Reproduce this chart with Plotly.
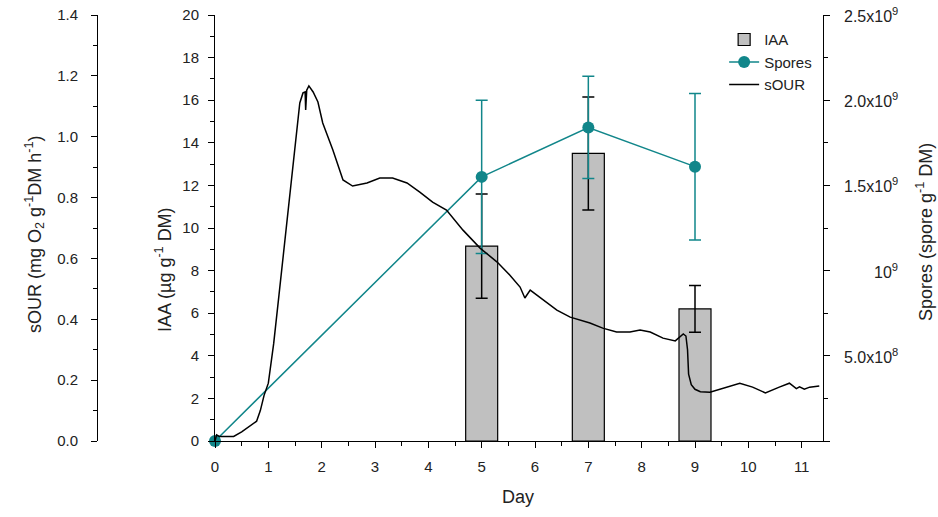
import plotly.graph_objects as go

# ---- data ----
iaa_days = [5, 7, 9]
iaa_vals = [9.15, 13.5, 6.2]
iaa_err = [2.45, 2.65, 1.1]

spore_days = [0, 5, 7, 9]
spore_vals = [0, 1.55e9, 1.84e9, 1.61e9]
spore_err = [0, 0.45e9, 0.30e9, 0.43e9]

sour_days = [0, 0.03, 0.08, 0.2, 0.35, 0.5, 0.65, 0.72, 0.78, 0.85, 0.92, 1.0, 1.1, 1.2,
             1.27, 1.40, 1.54, 1.59, 1.65, 1.69, 1.70, 1.72, 1.76, 1.84, 1.93, 2.02, 2.21,
             2.40, 2.58, 2.85, 3.09, 3.33, 3.60, 3.84, 4.08, 4.34, 4.65, 4.97, 5.29, 5.53,
             5.72, 5.81, 5.91, 6.09, 6.41, 6.66, 7.03, 7.27, 7.53, 7.78, 7.97, 8.16, 8.40,
             8.63, 8.78, 8.83, 8.86, 8.88, 8.93, 9.0, 9.10, 9.28, 9.58, 9.84, 10.08, 10.32,
             10.58, 10.77, 10.9, 10.96, 11.05, 11.15, 11.33]
sour_vals = [0.0, 0.02, 0.015, 0.015, 0.015, 0.03, 0.05, 0.058, 0.065, 0.10, 0.15, 0.19, 0.32, 0.48,
             0.595, 0.792, 1.032, 1.111, 1.144, 1.147, 1.088, 1.153, 1.167, 1.147, 1.114, 1.045, 0.956,
             0.858, 0.838, 0.848, 0.864, 0.864, 0.848, 0.818, 0.785, 0.759, 0.693, 0.634, 0.588, 0.545,
             0.506, 0.470, 0.496, 0.473, 0.430, 0.407, 0.388, 0.371, 0.358, 0.358, 0.365, 0.358, 0.338,
             0.329, 0.352, 0.345, 0.30, 0.22, 0.185, 0.17, 0.162, 0.160, 0.177, 0.19, 0.177, 0.158,
             0.177, 0.19, 0.172, 0.178, 0.170, 0.177, 0.181]

spore_tickvals = [5e8, 1e9, 1.5e9, 2e9, 2.5e9]
spore_ticktext = ["5.0x10<sup>8</sup>", "10<sup>9</sup>", "1.5x10<sup>9</sup>",
                  "2.0x10<sup>9</sup>", "2.5x10<sup>9</sup>"]

TEAL = "#11868a"
FONT = "Liberation Sans, Arial, sans-serif"
TXT = "#222"

fig = go.Figure()
fig.add_trace(go.Bar(
    x=iaa_days, y=iaa_vals, width=0.6, name="IAA",
    marker=dict(color="#c0c0c0", line=dict(color="black", width=1.2)),
    error_y=dict(type="data", array=iaa_err, color="black", thickness=1.5, width=6),
    yaxis="y", xaxis="x"))
fig.add_trace(go.Scatter(
    x=spore_days, y=spore_vals, name="Spores", mode="lines+markers",
    line=dict(color=TEAL, width=1.5), marker=dict(color=TEAL, size=12),
    error_y=dict(type="data", array=spore_err, color=TEAL, thickness=1.5, width=6),
    cliponaxis=False, yaxis="y2", xaxis="x"))
fig.add_trace(go.Scatter(
    x=sour_days, y=sour_vals, name="sOUR", mode="lines",
    line=dict(color="black", width=1.5), yaxis="y3", xaxis="x"))

axis_common = dict(showline=True, linecolor="black", linewidth=1, ticks="outside",
                   tickcolor="black", ticklen=6, showgrid=False, zeroline=False,
                   automargin=False, mirror=False,
                   tickfont=dict(size=15, color=TXT, family=FONT))
minor_common = dict(ticks="outside", ticklen=4, tickcolor="black", showgrid=False)

fig.update_layout(
    width=938, height=517, margin=dict(l=0, r=0, t=0, b=0, pad=0),
    paper_bgcolor="white", plot_bgcolor="white", template="none",
    font=dict(family=FONT, size=15, color=TXT),
    xaxis=dict(domain=[215 / 938, 823 / 938], range=[0, 11.4], dtick=1, anchor="y",
               ticklabelstandoff=6, minor=dict(dtick=0.5, **minor_common), **axis_common),
    yaxis=dict(domain=[76 / 517, 502 / 517], range=[0, 20], dtick=2, anchor="x",
               ticklabelstandoff=6, minor=dict(dtick=1, **minor_common), **axis_common),
    yaxis2=dict(overlaying="y", side="right", anchor="x", range=[0, 2.5e9], dtick=5e8,
                showticklabels=False, minor=dict(dtick=2.5e8, **minor_common), **axis_common),
    yaxis3=dict(overlaying="y", side="left", anchor="free", position=97 / 938,
                range=[0, 1.4], dtick=0.2, tickformat=".1f", ticklabelstandoff=10,
                minor=dict(dtick=0.1, **minor_common), **axis_common),
    legend=dict(x=0.772, y=0.955, xanchor="left", yanchor="top", bgcolor="rgba(0,0,0,0)",
                font=dict(size=15, family=FONT, color=TXT), tracegroupgap=0),
    showlegend=True,
)

annotations = []
for v, t in zip(spore_tickvals, spore_ticktext):
    annotations.append(dict(x=900 / 938, xref="paper", y=v, yref="y2", text=t,
                            showarrow=False, xanchor="right", yanchor="middle",
                            font=dict(size=16, family=FONT, color=TXT)))
title_font = dict(size=18, family=FONT, color=TXT)
annotations += [
    dict(x=34 / 938, y=(517 - 235) / 517, xref="paper", yref="paper", textangle=-90,
         showarrow=False, xanchor="center", yanchor="middle",
         text="sOUR (mg O<sub>2</sub> g<sup>-1</sup>DM h<sup>-1</sup>)", font=title_font),
    dict(x=163 / 938, y=(517 - 270) / 517, xref="paper", yref="paper", textangle=-90,
         showarrow=False, xanchor="center", yanchor="middle",
         text="IAA (µg g<sup>-1</sup> DM)", font=title_font),
    dict(x=924 / 938, y=(517 - 232) / 517, xref="paper", yref="paper", textangle=-90,
         showarrow=False, xanchor="center", yanchor="middle",
         text="Spores (spore g<sup>-1</sup> DM)", font=title_font),
    dict(x=518 / 938, y=(517 - 497) / 517, xref="paper", yref="paper", showarrow=False,
         xanchor="center", yanchor="middle", text="Day", font=title_font),
]
fig.update_layout(annotations=annotations)

fig.write_html("out.html")
